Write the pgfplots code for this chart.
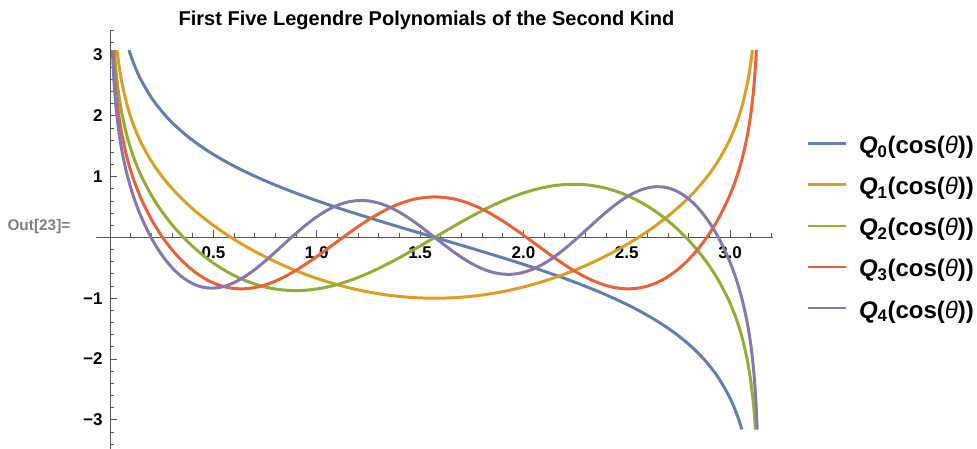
\documentclass[border=0pt]{standalone}
\usepackage{fontspec}
\setmainfont{Liberation Sans}
\usepackage{pgfplots}
\pgfplotsset{compat=1.18}

% Mathematica-style default curve colours
\definecolor{cQzero}{HTML}{5E81B5}
\definecolor{cQone}{HTML}{E19C24}
\definecolor{cQtwo}{HTML}{8FB032}
\definecolor{cQthree}{HTML}{EB6235}
\definecolor{cQfour}{HTML}{8778B3}
\definecolor{axisgray}{HTML}{555555}

\newcommand{\Qlabel}[1]{\textit{Q}\textsubscript{#1}(cos({\fontseries{m}\itshape θ}))}

\begin{document}
\begin{tikzpicture}
\useasboundingbox (0pt,0pt) rectangle (977pt,449pt);
\begin{axis}[
  at={(96pt,0pt)}, anchor=south west,
  scale only axis, width=677.3pt, height=418.3pt,
  xmin=-0.068, xmax=3.209, ymin=-3.48, ymax=3.4,
  axis lines=middle,
  axis line style={-, draw=axisgray, line width=0.8pt},
  tick align=inside,
  major tick length=7pt, minor tick length=4pt,
  tick style={axisgray, line width=0.8pt},
  xtick={0.5,1,1.5,2,2.5,3},
  xticklabels={0.5,1.0,1.5,2.0,2.5,3.0},
  minor xtick={0.1,0.2,0.3,0.4,0.6,0.7,0.8,0.9,1.1,1.2,1.3,1.4,1.6,1.7,1.8,1.9,2.1,2.2,2.3,2.4,2.6,2.7,2.8,2.9,3.1,3.2},
  ytick={-3,-2,-1,1,2,3},
  yticklabels={−3,−2,−1,1,2,3},
  minor ytick={-3.4,-3.2,-2.8,-2.6,-2.4,-2.2,-1.8,-1.6,-1.4,-1.2,-0.8,-0.6,-0.4,-0.2,0.2,0.4,0.6,0.8,1.2,1.4,1.6,1.8,2.2,2.4,2.6,2.8,3.2,3.4},
  ticklabel style={font=\fontsize{17}{17}\selectfont\bfseries},
  xticklabel style={yshift=-6pt},
  yticklabel style={anchor=east, xshift=-4pt},
  clip=false,
  legend cell align=left,
  legend image code/.code={\draw[#1, line width=2.3pt] (0pt,4.5pt) -- (38pt,4.5pt);},
  legend style={
    at={(axis description cs:1.0493,0.7450)}, anchor=north west,
    draw=none, fill=none, inner sep=0pt, outer sep=0pt,
    row sep=20.2pt, column sep=12pt,
    nodes={inner sep=0pt, text height=16pt, text depth=5pt,
           font=\fontsize{24}{24}\selectfont\bfseries},
  },
]

% Q_0(cos theta)
\addplot[cQzero, line width=3pt, smooth] coordinates {
(0.0919,3.08) (0.10,2.9949) (0.12,2.8122) (0.15,2.5884) (0.20,2.2992) (0.25,2.0742) (0.30,1.8896) (0.35,1.7327) (0.40,1.5960) (0.45,1.4746) (0.50,1.3652) (0.55,1.2653) (0.60,1.1733) (0.65,1.0878) (0.70,1.0078) (0.75,0.9324) (0.80,0.8609) (0.85,0.7928) (0.90,0.7276) (0.95,0.6650) (1.00,0.6046) (1.05,0.5461) (1.10,0.4892) (1.15,0.4338) (1.20,0.3796) (1.25,0.3264) (1.30,0.2742) (1.35,0.2226) (1.40,0.1716) (1.45,0.1211) (1.50,0.0709) (1.5708,0) (1.6416,-0.0709) (1.6916,-0.1211) (1.7416,-0.1716) (1.7916,-0.2226) (1.8416,-0.2742) (1.8916,-0.3264) (1.9416,-0.3796) (1.9916,-0.4338) (2.0416,-0.4892) (2.0916,-0.5461) (2.1416,-0.6046) (2.1916,-0.6650) (2.2416,-0.7276) (2.2916,-0.7928) (2.3416,-0.8609) (2.3916,-0.9324) (2.4416,-1.0078) (2.4916,-1.0878) (2.5416,-1.1733) (2.5916,-1.2653) (2.6416,-1.3652) (2.6916,-1.4746) (2.7416,-1.5960) (2.7916,-1.7327) (2.8416,-1.8896) (2.8916,-2.0742) (2.9416,-2.2992) (2.9916,-2.5884) (3.0216,-2.8122) (3.0416,-2.9949) (3.0568,-3.16)
};
\addlegendentry{\Qlabel{0}}

% Q_1(cos theta)
\addplot[cQone, line width=3pt, smooth] coordinates {
(0.0338,3.08) (0.04,2.9088) (0.05,2.6841) (0.06,2.5000) (0.08,2.2080) (0.10,1.9799) (0.12,1.7920) (0.15,1.5593) (0.20,1.2534) (0.25,1.0097) (0.30,0.8052) (0.35,0.6276) (0.40,0.4700) (0.45,0.3278) (0.50,0.1981) (0.55,0.0787) (0.60,-0.0316) (0.65,-0.1340) (0.70,-0.2292) (0.75,-0.3178) (0.80,-0.4002) (0.85,-0.4768) (0.90,-0.5477) (0.95,-0.6132) (1.00,-0.6733) (1.05,-0.7283) (1.10,-0.7781) (1.15,-0.8228) (1.20,-0.8624) (1.25,-0.8971) (1.30,-0.9267) (1.35,-0.9512) (1.40,-0.9708) (1.45,-0.9854) (1.50,-0.9950) (1.5708,-1) (1.6416,-0.9950) (1.6916,-0.9854) (1.7416,-0.9708) (1.7916,-0.9512) (1.8416,-0.9267) (1.8916,-0.8971) (1.9416,-0.8624) (1.9916,-0.8228) (2.0416,-0.7781) (2.0916,-0.7283) (2.1416,-0.6733) (2.1916,-0.6132) (2.2416,-0.5477) (2.2916,-0.4768) (2.3416,-0.4002) (2.3916,-0.3178) (2.4416,-0.2292) (2.4916,-0.1340) (2.5416,-0.0316) (2.5916,0.0787) (2.6416,0.1981) (2.6916,0.3278) (2.7416,0.4700) (2.7916,0.6276) (2.8416,0.8052) (2.8916,1.0097) (2.9416,1.2534) (2.9916,1.5593) (3.0216,1.7920) (3.0416,1.9799) (3.0616,2.2080) (3.0816,2.5000) (3.0916,2.6841) (3.1016,2.9088) (3.1078,3.08)
};
\addlegendentry{\Qlabel{1}}

% Q_2(cos theta)
\addplot[cQtwo, line width=3pt, smooth] coordinates {
(0.0205,3.08) (0.025,2.8784) (0.03,2.6946) (0.04,2.4037) (0.05,2.1768) (0.06,1.9901) (0.08,1.6923) (0.10,1.4576) (0.12,1.2626) (0.15,1.0185) (0.20,0.6930) (0.25,0.4304) (0.30,0.2091) (0.35,0.0180) (0.40,-0.1486) (0.45,-0.2946) (0.50,-0.4219) (0.55,-0.5320) (0.60,-0.6258) (0.65,-0.7039) (0.70,-0.7669) (0.75,-0.8149) (0.80,-0.8487) (0.85,-0.8684) (0.90,-0.8745) (0.95,-0.8675) (1.00,-0.8480) (1.05,-0.8166) (1.10,-0.7740) (1.15,-0.7210) (1.20,-0.6585) (1.25,-0.5875) (1.30,-0.5090) (1.35,-0.4238) (1.40,-0.3334) (1.45,-0.2387) (1.50,-0.1410) (1.5708,0) (1.6416,0.1410) (1.6916,0.2387) (1.7416,0.3334) (1.7916,0.4238) (1.8416,0.5090) (1.8916,0.5875) (1.9416,0.6585) (1.9916,0.7210) (2.0416,0.7740) (2.0916,0.8166) (2.1416,0.8480) (2.1916,0.8675) (2.2416,0.8745) (2.2916,0.8684) (2.3416,0.8487) (2.3916,0.8149) (2.4416,0.7669) (2.4916,0.7039) (2.5416,0.6258) (2.5916,0.5320) (2.6416,0.4219) (2.6916,0.2946) (2.7416,0.1486) (2.7916,-0.0180) (2.8416,-0.2091) (2.8916,-0.4304) (2.9416,-0.6930) (2.9916,-1.0185) (3.0216,-1.2626) (3.0416,-1.4576) (3.0616,-1.6923) (3.0816,-1.9901) (3.0916,-2.1768) (3.1016,-2.4037) (3.1116,-2.6946) (3.1166,-2.8784) (3.1227,-3.16)
};
\addlegendentry{\Qlabel{2}}

% Q_3(cos theta)
\addplot[cQthree, line width=3pt, smooth] coordinates {
(0.0147,3.08) (0.017,2.9331) (0.02,2.7673) (0.025,2.5461) (0.03,2.3572) (0.04,2.0638) (0.05,1.8339) (0.06,1.6442) (0.08,1.3394) (0.10,1.0973) (0.12,0.8945) (0.15,0.6390) (0.20,0.2963) (0.25,0.0219) (0.30,-0.2039) (0.35,-0.3902) (0.40,-0.5415) (0.45,-0.6606) (0.50,-0.7491) (0.55,-0.8084) (0.60,-0.8398) (0.65,-0.8446) (0.70,-0.8247) (0.75,-0.7820) (0.80,-0.7186) (0.85,-0.6374) (0.90,-0.5408) (0.95,-0.4322) (1.00,-0.3148) (1.05,-0.1917) (1.10,-0.0664) (1.15,0.0576) (1.20,0.1772) (1.25,0.2893) (1.30,0.3909) (1.35,0.4795) (1.40,0.5528) (1.45,0.6090) (1.50,0.6467) (1.5708,0.6667) (1.6416,0.6467) (1.6916,0.6090) (1.7416,0.5528) (1.7916,0.4795) (1.8416,0.3909) (1.8916,0.2893) (1.9416,0.1772) (1.9916,0.0576) (2.0416,-0.0664) (2.0916,-0.1917) (2.1416,-0.3148) (2.1916,-0.4322) (2.2416,-0.5408) (2.2916,-0.6374) (2.3416,-0.7186) (2.3916,-0.7820) (2.4416,-0.8247) (2.4916,-0.8446) (2.5416,-0.8398) (2.5916,-0.8084) (2.6416,-0.7491) (2.6916,-0.6606) (2.7416,-0.5415) (2.7916,-0.3902) (2.8416,-0.2039) (2.8916,0.0219) (2.9416,0.2963) (2.9916,0.6390) (3.0216,0.8945) (3.0416,1.0973) (3.0616,1.3394) (3.0816,1.6442) (3.0916,1.8339) (3.1016,2.0638) (3.1116,2.3572) (3.1166,2.5461) (3.1216,2.7673) (3.1246,2.9331) (3.1269,3.08)
};
\addlegendentry{\Qlabel{3}}

% Q_4(cos theta)
\addplot[cQfour, line width=3pt, smooth] coordinates {
(0.0115,3.08) (0.014,2.877) (0.017,2.6826) (0.02,2.5147) (0.025,2.2953) (0.03,2.1022) (0.04,1.8059) (0.05,1.5730) (0.06,1.3795) (0.08,1.0673) (0.10,0.8173) (0.12,0.6071) (0.15,0.3417) (0.20,-0.0113) (0.25,-0.2857) (0.30,-0.4977) (0.35,-0.6550) (0.40,-0.7613) (0.45,-0.8200) (0.50,-0.8340) (0.55,-0.8070) (0.60,-0.7435) (0.65,-0.6487) (0.70,-0.5288) (0.75,-0.3901) (0.80,-0.2397) (0.85,-0.0848) (0.90,0.0675) (0.95,0.2106) (1.00,0.3384) (1.05,0.4455) (1.10,0.5278) (1.15,0.5820) (1.20,0.6063) (1.25,0.6002) (1.30,0.5647) (1.35,0.5017) (1.40,0.4144) (1.45,0.3073) (1.50,0.1859) (1.5708,0) (1.6416,-0.1859) (1.6916,-0.3073) (1.7416,-0.4144) (1.7916,-0.5017) (1.8416,-0.5647) (1.8916,-0.6002) (1.9416,-0.6063) (1.9916,-0.5820) (2.0416,-0.5278) (2.0916,-0.4455) (2.1416,-0.3384) (2.1916,-0.2106) (2.2416,-0.0675) (2.2916,0.0848) (2.3416,0.2397) (2.3916,0.3901) (2.4416,0.5288) (2.4916,0.6487) (2.5416,0.7435) (2.5916,0.8070) (2.6416,0.8340) (2.6916,0.8200) (2.7416,0.7613) (2.7916,0.6550) (2.8416,0.4977) (2.8916,0.2857) (2.9416,0.0113) (2.9916,-0.3417) (3.0216,-0.6071) (3.0416,-0.8173) (3.0616,-1.0673) (3.0816,-1.3795) (3.0916,-1.5730) (3.1016,-1.8059) (3.1116,-2.1022) (3.1166,-2.2953) (3.1216,-2.5147) (3.1246,-2.6826) (3.1276,-2.877) (3.1310,-3.16)
};
\addlegendentry{\Qlabel{4}}

\end{axis}

% title and output label
\node[anchor=base, inner sep=0pt, font=\fontsize{20}{20}\selectfont\bfseries]
  at (426.5pt,423pt) {First Five Legendre Polynomials of the Second Kind};
\node[anchor=west, inner sep=0pt, text=black!50, font=\fontsize{15.4}{15.4}\selectfont\bfseries]
  at (7.3pt,222pt) {Out[23]=};
\end{tikzpicture}
\end{document}
